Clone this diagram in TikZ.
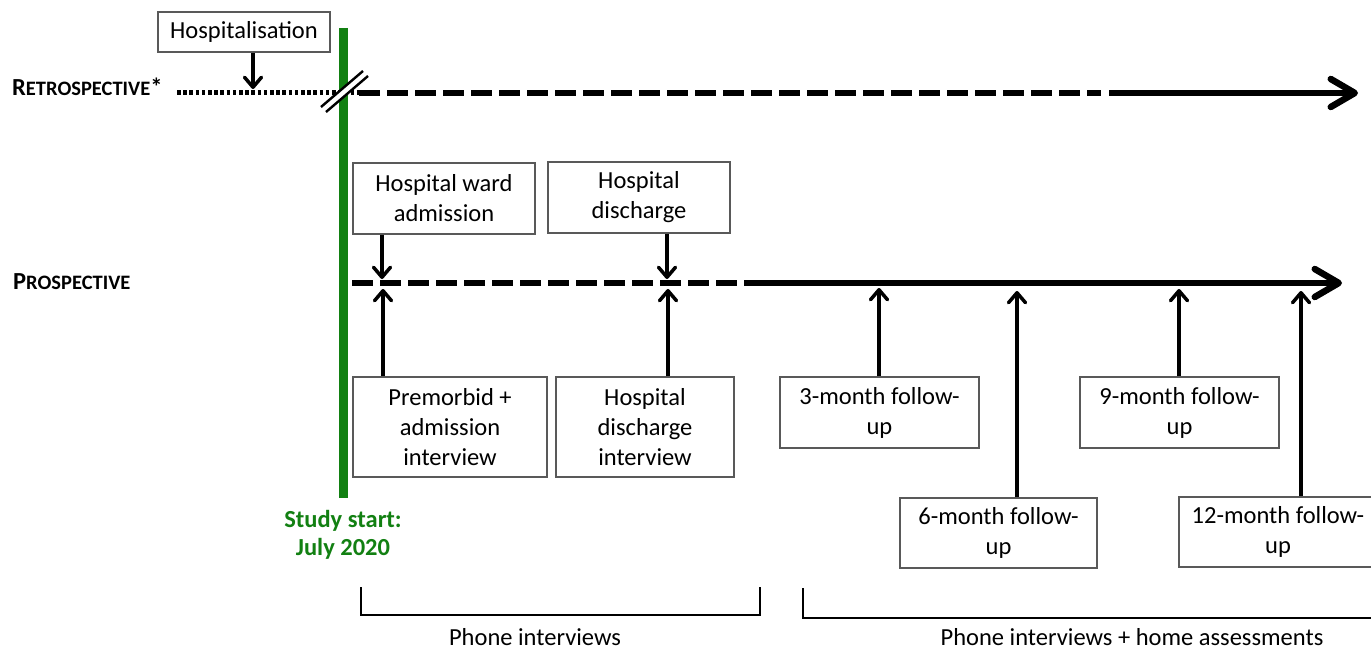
\documentclass[tikz,border=0pt]{standalone}
\usepackage{fontspec}
\setmainfont{Carlito}
\usetikzlibrary{arrows.meta}
\definecolor{studygreen}{RGB}{18,128,18}
\tikzset{
  box/.style={draw=black!65, line width=1.1pt, fill=white, inner sep=0pt, align=center,
    font=\fontsize{24.5}{30}\selectfont},
  txt/.style={inner sep=0pt, font=\fontsize{24.5}{30}\selectfont},
  biglinedash/.style={line width=6.5pt, dash pattern=on 21pt off 7pt},
  biglinedot/.style={line width=5pt, dash pattern=on 3.6pt off 2.6pt},
  bigarrow/.style={line width=6.5pt, -{Straight Barb[length=24pt,width=28pt,round]}},
  smallarrow/.style={line width=3.5pt, -{Straight Barb[length=10pt,width=17pt,round]}},
  bracketline/.style={line width=2.8pt},
  greenbar/.style={draw=studygreen, line width=9pt},
}
\begin{document}
\begin{tikzpicture}[x=1pt,y=-1pt]
\useasboundingbox (0,0) rectangle (1371,650);

% time line coordinates
\coordinate (r0) at (177,93);
\coordinate (rd) at (359,93);
\coordinate (rde) at (1101,93);
\coordinate (rs) at (1109,93);
\coordinate (re) at (1358,93);
\coordinate (p0) at (352,283);
\coordinate (ps) at (745,283);
\coordinate (pe) at (1342,283);
\coordinate (g0) at (343.5,28);
\coordinate (g1) at (343.5,498);

% labels
\node[txt, anchor=base west] (retro) at (12,96)
  {\bfseries\fontsize{24.5}{26}\selectfont R\fontsize{20.5}{22}\selectfont ETROSPECTIVE\fontsize{24.5}{26}\selectfont*};
\node[txt, anchor=base west] (prosp) at (13,289)
  {\bfseries\fontsize{24.5}{26}\selectfont P\fontsize{20.5}{22}\selectfont ROSPECTIVE};

% retrospective line
\draw[biglinedot] (r0) -- (rd);
\draw[biglinedash] (rd) -- (rde);
\draw[bigarrow] (rs) -- (re);

% prospective line
\draw[biglinedash] (p0) -- (ps);
\draw[bigarrow] (ps) -- (pe);

% green study start line
\draw[greenbar] (g0) -- (g1);
\node[txt, align=center, text=studygreen, font=\bfseries\fontsize{24.5}{28}\selectfont] (start) at (343,535)
  {Study start:\\July 2020};

% double slash
\coordinate (s1a) at (321,107);
\coordinate (s1b) at (363,71);
\coordinate (s2a) at (326,112);
\coordinate (s2b) at (368,76);
\fill[white] (s1a) -- (s1b) -- (s2b) -- (s2a) -- cycle;
\draw[line width=2.4pt] (s1a) -- (s1b);
\draw[line width=2.4pt] (s2a) -- (s2b);

% boxes
\node[box, minimum width=172pt, minimum height=40pt] (hosp) at (244,32) {Hospitalisation};
\node[box, minimum width=182pt, minimum height=71pt] (ward) at (444,198.5) {Hospital ward\\admission};
\node[box, minimum width=182pt, minimum height=71pt] (disch) at (639,197.5) {Hospital\\discharge};
\node[box, minimum width=194pt, minimum height=100pt] (premorb) at (450,427) {Premorbid +\\admission\\interview};
\node[box, minimum width=178pt, minimum height=100pt] (dischint) at (645,427) {Hospital\\discharge\\interview};
\node[box, minimum width=199pt, minimum height=71pt] (m3) at (879.5,412.5) {3-month follow-\\up};
\node[box, minimum width=197pt, minimum height=70pt] (m6) at (998.5,533) {6-month follow-\\up};
\node[box, minimum width=199pt, minimum height=71pt] (m9) at (1179.5,412.5) {9-month follow-\\up};
\node[box, minimum width=198pt, minimum height=70pt] (m12) at (1278,532) {12-month follow-\\up};

% arrow end points
\coordinate (ah) at (253,89);
\coordinate (aw) at (382,279);
\coordinate (ad) at (667,279);
\coordinate (ap) at (383,289);
\coordinate (adi) at (668,289);
\coordinate (a3) at (879,288);
\coordinate (a6) at (1017,291);
\coordinate (a9) at (1179,289);
\coordinate (a12) at (1301,291);

\draw[smallarrow] (hosp.south -| ah) -- (ah);
\draw[smallarrow] (ward.south -| aw) -- (aw);
\draw[smallarrow] (disch.south -| ad) -- (ad);
\draw[smallarrow] (premorb.north -| ap) -- (ap);
\draw[smallarrow] (dischint.north -| adi) -- (adi);
\draw[smallarrow] (m3.north -| a3) -- (a3);
\draw[smallarrow] (m6.north -| a6) -- (a6);
\draw[smallarrow] (m9.north -| a9) -- (a9);
\draw[smallarrow] (m12.north -| a12) -- (a12);

% brackets
\coordinate (b1l) at (361,587);
\coordinate (b1r) at (760,587);
\coordinate (b2l) at (803,588);
\coordinate (b2r) at (1380,618);
\draw[bracketline] (b1l) -- (361,615) -- (760,615) -- (b1r);
\draw[bracketline] (b2l) |- (b2r);
\node[txt, anchor=base] (phone) at (535,645) {Phone interviews};
\node[txt, anchor=base] (phonehome) at (1132,645) {Phone interviews + home assessments};
\end{tikzpicture}
\end{document}
